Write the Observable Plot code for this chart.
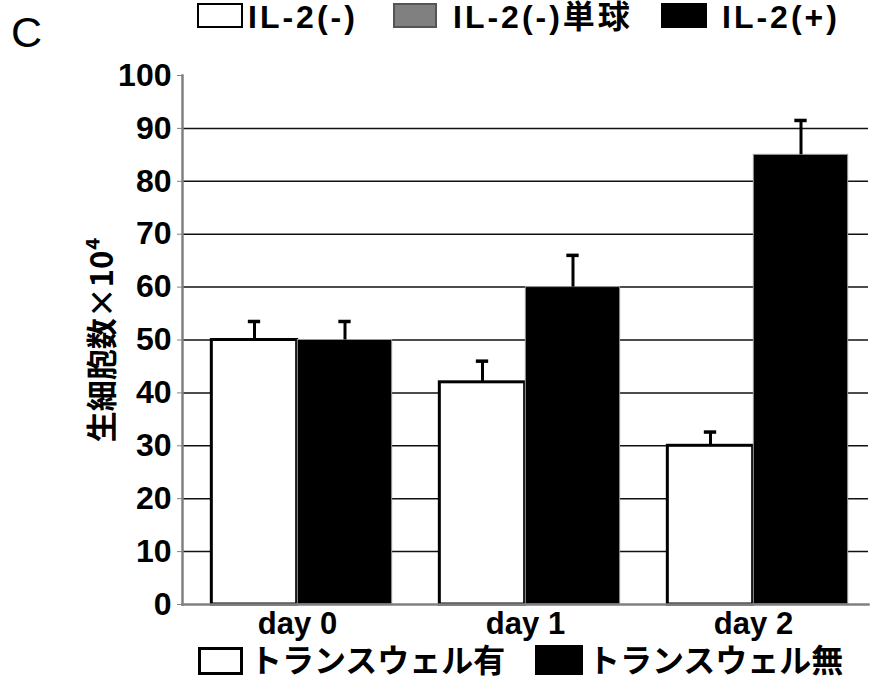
<!DOCTYPE html>
<html>
<head>
<meta charset="utf-8">
<script src="https://cdn.jsdelivr.net/npm/d3@7"></script>
<script src="https://cdn.jsdelivr.net/npm/@observablehq/plot@0.6"></script>
<style>
  body { margin: 0; background: #fff; }
  #page { position: relative; width: 871px; height: 680px; overflow: hidden; background: #fff;
          font-family: "Liberation Sans", "Noto Sans CJK JP", sans-serif; color: #000; }
  .abs { position: absolute; line-height: 1; white-space: nowrap; }
  .sw { position: absolute; box-sizing: border-box; }
  .panel { font-size: 43px; font-weight: normal; }
  .lg { font-size: 32px; font-weight: bold; letter-spacing: 3px; }
  .lg2 { font-family: "Noto Sans CJK JP", sans-serif; font-size: 32px; font-weight: bold; }
  #chart { position: absolute; left: 0; top: 56px; }
</style>
</head>
<body>
<div id="page"></div>
<script>
// Viable cell counts (×10^4) per day, with and without transwell
const days = ["day 0", "day 1", "day 2"];
const withTranswell = [50, 42, 30];
const withTranswellErr = [3.5, 4, 2.6];
const withoutTranswell = [50, 60, 85];
const withoutTranswellErr = [3.5, 6, 6.5];
const yTicks = [0, 10, 20, 30, 40, 50, 60, 70, 80, 90, 100];
const gridValues = [10, 20, 30, 40, 50, 60, 70, 80, 90];
const yLabel = "生細胞数×10⁴";
const panelLetter = "C";

const topLegendLabels = ["IL-2(-)", "IL-2(-)単球", "IL-2(+)"];
const topLegendFills = ["#fff", "#808080", "#000"];
const bottomLegendLabels = ["トランスウェル有", "トランスウェル無"];
const bottomLegendFills = ["#fff", "#000"];

const page = document.getElementById("page");

function el(tag, cls, style, text) {
  const e = document.createElement(tag);
  if (cls) e.className = cls;
  Object.assign(e.style, style);
  if (text != null) e.textContent = text;
  page.appendChild(e);
  return e;
}

// panel letter
el("div", "abs panel", {left: "11px", top: "11px"}, panelLetter);

// top legend
const topSw = [[197, 46], [393, 44], [661, 46]];
const topTx = [248, 453, 722];
topLegendLabels.forEach((lab, i) => {
  el("div", "sw", {
    left: topSw[i][0] + "px", top: "3px", width: topSw[i][1] + "px", height: "25px",
    background: topLegendFills[i],
    border: i === 0 ? "2.5px solid #000" : (i === 1 ? "2px solid #555" : "none")
  });
  el("div", "abs lg", {left: topTx[i] + "px", top: "1px"}, lab);
});

// chart
const W = 871, H = 587, mL = 182, mR = 3, mT = 19, mB = 39;
const bw = (W - mL - mR) / days.length;
const wBar = 86, bBar = 95, cap = 13;

const rows = days.map((d, i) => ({
  day: d,
  a: withTranswell[i], ae: withTranswellErr[i],
  b: withoutTranswell[i], be: withoutTranswellErr[i]
}));

const chart = Plot.plot({
  width: W, height: H,
  marginLeft: mL, marginRight: mR, marginTop: mT, marginBottom: mB,
  style: {fontFamily: "'Liberation Sans', 'Noto Sans CJK JP', sans-serif", fontWeight: "bold", color: "#000", background: "#fff", overflow: "visible"},
  x: {domain: days, padding: 0, label: null},
  y: {domain: [0, 100], label: null},
  marks: [
    Plot.ruleY(gridValues, {stroke: "#111", strokeWidth: 1.5}),
    // bars
    Plot.barY(rows, {x: "day", y: "a", fill: "#fff", stroke: "#000", strokeWidth: 3,
      insetLeft: bw / 2 - wBar, insetRight: bw / 2}),
    Plot.barY(rows, {x: "day", y: "b", fill: "#000", stroke: "#999", strokeWidth: 1,
      insetLeft: bw / 2, insetRight: bw / 2 - bBar}),
    // error bars
    Plot.ruleX(rows, {x: "day", y1: "a", y2: d => d.a + d.ae, dx: -wBar / 2, stroke: "#000", strokeWidth: 3}),
    Plot.tickY(rows, {x: "day", y: d => d.a + d.ae, stroke: "#000", strokeWidth: 3.5,
      insetLeft: bw / 2 - wBar / 2 - cap / 2, insetRight: bw / 2 + wBar / 2 - cap / 2}),
    Plot.ruleX(rows, {x: "day", y1: "b", y2: d => d.b + d.be, dx: bBar / 2, stroke: "#000", strokeWidth: 3}),
    Plot.tickY(rows, {x: "day", y: d => d.b + d.be, stroke: "#000", strokeWidth: 3.5,
      insetLeft: bw / 2 + bBar / 2 - cap / 2, insetRight: bw / 2 - bBar / 2 - cap / 2}),
    // axis lines
    Plot.frame({anchor: "left", stroke: "#808080", strokeWidth: 2.5}),
    Plot.frame({anchor: "bottom", stroke: "#808080", strokeWidth: 2.5}),
    Plot.axisY({ticks: yTicks, tickSize: 5, tickPadding: 6, fontSize: 32, stroke: "#808080", label: null}),
    Plot.axisX({tickSize: 0, tickPadding: 7, fontSize: 31, label: null}),
    Plot.text([yLabel], {frameAnchor: "left", textAnchor: "middle", dx: -79, rotate: -90, fontSize: 31,
      fontFamily: "'Noto Sans CJK JP', sans-serif", fontWeight: "bold", fill: "#000"})
  ]
});
chart.id = "chart";
page.appendChild(chart);

// bottom legend
const botSw = [[198, 45], [535, 48]];
const botTx = [250, 588];
bottomLegendLabels.forEach((lab, i) => {
  el("div", "sw", {
    left: botSw[i][0] + "px", top: (i === 0 ? 647 : 645) + "px", width: botSw[i][1] + "px", height: (i === 0 ? 28 : 30) + "px",
    background: bottomLegendFills[i],
    border: i === 0 ? "3px solid #000" : "none"
  });
  el("div", "abs lg2", {left: botTx[i] + "px", top: "642px"}, lab);
});
</script>
</body>
</html>
